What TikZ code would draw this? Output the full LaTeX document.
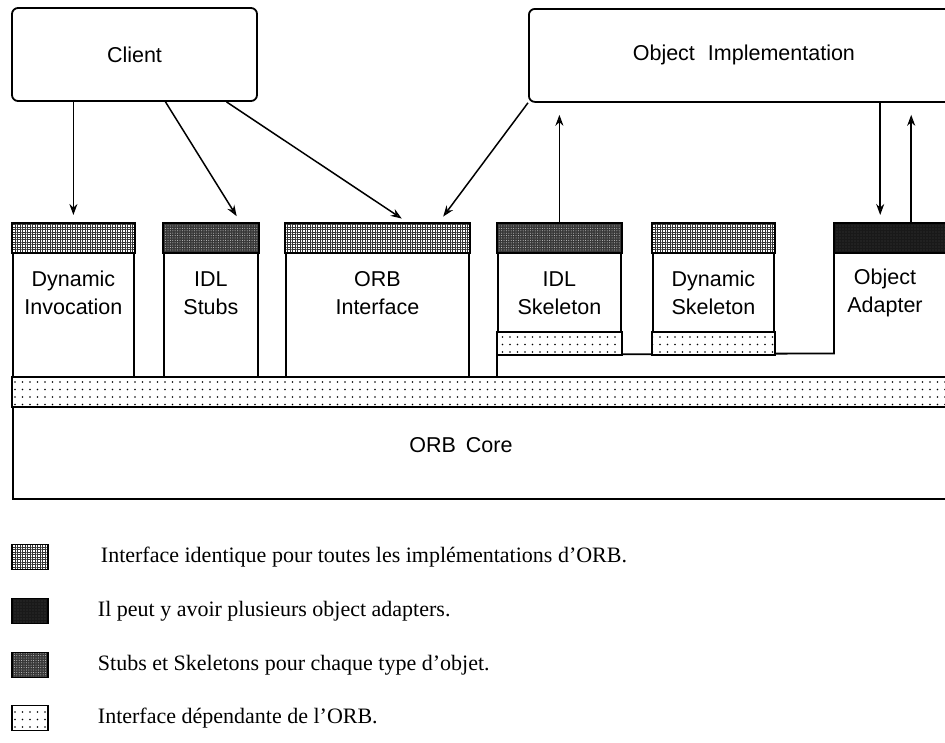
\documentclass[tikz,border=0pt]{standalone}
\usepackage{fontspec}
\setmainfont{Liberation Serif}
\setsansfont{Liberation Sans}
\usetikzlibrary{calc, positioning, arrows.meta, patterns.meta}

\begin{document}
\begin{tikzpicture}[x=1pt, y=-1pt,
    party/.style={draw, line width=1.8pt, rounded corners=6pt,
      font=\sffamily\fontsize{21.5}{28}\selectfont},
    block/.style={draw, line width=1.8pt, anchor=north west, inner sep=0pt},
    blocktext/.style={font=\sffamily\fontsize{21.5}{28}\selectfont, align=center},
    arrow/.style={-{Stealth[open, length=11pt, width=8pt]}, line width=1.5pt, shorten >=8pt},
    stdband/.style={draw, line width=1.5pt, preaction={fill=white},
      pattern={Hatch[angle=0, distance=2.5pt, line width=0.5pt]}, pattern color=black!80},
    stubband/.style={draw, line width=1.5pt, preaction={fill=black!78},
      pattern={Dots[distance=2.4pt, radius=0.5pt]}, pattern color=white!80!black},
    adaptband/.style={draw, line width=1.5pt, preaction={fill=black!90},
      pattern={Dots[distance=3pt, radius=0.4pt]}, pattern color=black!50},
    depband/.style={draw, line width=1.5pt, preaction={fill=white},
      pattern={Dots[distance=7.5pt, radius=0.9pt]}, pattern color=black},
    swatch/.style={minimum width=36, minimum height=25, inner sep=0pt},
    keytext/.style={font=\rmfamily\fontsize{22}{26}\selectfont, inner sep=0pt, anchor=west},
  ]
    \useasboundingbox (0,0) rectangle (945,742);
    \clip (0,0) rectangle (945,742);

    \node[party, minimum width=245, minimum height=93] (client) at (134.5,54.5) {Client};
    \node[party, minimum width=430, minimum height=93, anchor=north west] (objimpl) at (528,8)
      {Object\hspace{13pt}Implementation};

    \node[block, minimum width=121, minimum height=154] (dyninv) at (12,223) {};
    \node[block, minimum width=94, minimum height=154] (stubs) at (163,223) {};
    \node[block, minimum width=183, minimum height=154] (orbif) at (285,223) {};
    \node[block, minimum width=123, minimum height=130] (skel) at (497,223) {};
    \node[block, minimum width=121, minimum height=130] (dynskel) at (652,223) {};
    \node[minimum width=120, minimum height=130, anchor=north west, inner sep=0pt] (adapter) at (834,223) {};
    \node[block, minimum width=940, minimum height=121] (core) at (12,377) {};

    % object adapter outline, open towards the core
    \draw[line width=1.8pt] (skel.south west |- core.north) -- (skel.south west)
      -- (adapter.south west) -- (adapter.north west) -- (adapter.north east);

    \foreach \b in {dyninv, orbif, dynskel}
      \draw[stdband] (\b.north west) rectangle ($(\b.north east)+(0,30)$);
    \foreach \b in {stubs, skel}
      \draw[stubband] (\b.north west) rectangle ($(\b.north east)+(0,30)$);
    \draw[adaptband] (adapter.north west) rectangle ($(adapter.north east)+(0,30)$);
    \foreach \b in {skel, dynskel}
      \draw[depband] ($(\b.south west)+(0,-23)$) rectangle (\b.south east);
    \draw[depband] (core.north west) rectangle ($(core.north east)+(0,30)$);

    \node[blocktext] at ($(dyninv.north)+(0,70)$) {Dynamic\\Invocation};
    \node[blocktext] at ($(stubs.north)+(0,70)$) {IDL\\Stubs};
    \node[blocktext] at ($(orbif.north)+(0,70)$) {ORB\\Interface};
    \node[blocktext] at ($(skel.north)+(0,70)$) {IDL\\Skeleton};
    \node[blocktext] at ($(dynskel.north)+(0,70)$) {Dynamic\\Skeleton};
    \node[blocktext] at ($(adapter.north west)+(51,70)$) {Object\\Adapter};
    \node[blocktext] at ($(core.north)+(-22,68)$) {ORB\hspace{10pt}Core};

    \draw[arrow] (dyninv.north |- client.south) -- (dyninv.north);
    \draw[arrow] ($(client.south)+(31,0)$) -- ($(stubs.north)+(30,0)$);
    \draw[arrow] ($(client.south)+(92,0)$) -- ($(orbif.north)+(31,0)$);
    \draw[arrow] (objimpl.south west) -- ($(orbif.north)+(61,0)$);
    \draw[arrow, shorten >=12pt] (skel.north) -- (skel.north |- objimpl.south);
    \draw[arrow] ($(objimpl.south -| adapter.north)+(-14,0)$) -- ($(adapter.north)+(-14,0)$);
    \draw[arrow, shorten >=12pt] ($(adapter.north)+(17,0)$) -- ($(objimpl.south -| adapter.north)+(17,0)$);

    % legend
    \node[swatch, stdband] (key1) at (30,557) {};
    \node[swatch, adaptband] (key2) at (30,611) {};
    \node[swatch, stubband] (key3) at (30,665) {};
    \node[swatch, depband] (key4) at (30,718) {};
    \node[keytext, right=52pt of key1] (txt1) {Interface identique pour toutes les implémentations d'ORB.};
    \node[keytext, right=49pt of key2] (txt2) {Il peut y avoir plusieurs object adapters.};
    \node[keytext, right=49pt of key3] (txt3) {Stubs et Skeletons pour chaque type d'objet.};
    \node[keytext, right=49pt of key4] (txt4) {Interface dépendante de l'ORB.};
  \end{tikzpicture}
\end{document}
